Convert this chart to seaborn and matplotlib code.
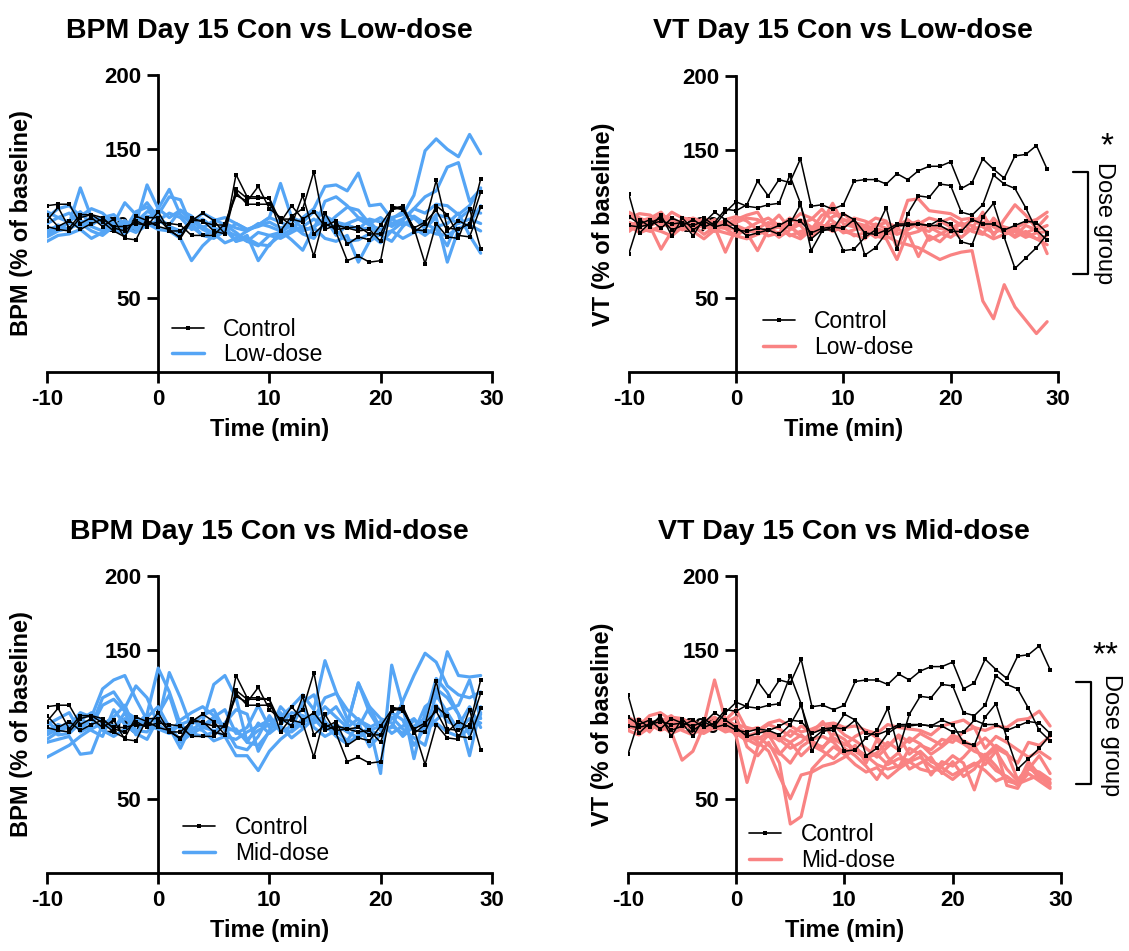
import pandas as pd
import seaborn as sns
import matplotlib.pyplot as plt
from matplotlib.lines import Line2D

# time axis, one reading per minute
time = list(range(-10, 30))

# control group, BPM (% of baseline)
bpm_con = [
    [112, 113, 113, 100, 104, 98, 103, 90, 89, 104, 104, 95, 95, 102, 107, 102, 93, 133, 118, 118,
     117, 95, 105, 110, 135, 96, 99, 97, 95, 96, 88, 111, 111, 94, 100, 129, 97, 96, 100, 130],
    [102, 111, 97, 106, 106, 101, 95, 91, 105, 102, 98, 96, 90, 102, 102, 95, 93, 123, 117, 117,
     117, 101, 112, 103, 108, 98, 102, 86, 91, 89, 99, 110, 110, 97, 101, 109, 95, 102, 98, 121],
    [98, 96, 95, 104, 106, 104, 97, 95, 102, 98, 108, 95, 91, 104, 101, 99, 99, 119, 115, 125,
     110, 104, 99, 119, 93, 100, 96, 97, 98, 93, 93, 109, 112, 96, 95, 112, 106, 92, 91, 111],
    [106, 98, 102, 96, 100, 103, 98, 98, 100, 99, 101, 100, 99, 92, 92, 92, 100, 121, 113, 113,
     113, 103, 103, 101, 78, 107, 94, 75, 78, 74, 75, 112, 109, 97, 73, 100, 91, 90, 110, 83],
]

# control group, VT (% of baseline)
vt_con = [
    [120, 94, 101, 104, 96, 99, 103, 98, 101, 110, 109, 113, 129, 119, 130, 128, 144, 112, 113, 110,
     113, 129, 130, 130, 127, 134, 130, 136, 139, 139, 142, 124, 128, 144, 137, 131, 146, 147, 153, 137],
    [105, 100, 103, 97, 104, 101, 92, 104, 99, 108, 115, 112, 111, 113, 114, 133, 114, 82, 95, 98,
     82, 83, 91, 96, 111, 83, 107, 119, 118, 127, 126, 108, 106, 113, 133, 127, 124, 111, 96, 89],
    [80, 103, 98, 106, 92, 104, 96, 101, 108, 103, 98, 92, 94, 96, 93, 100, 113, 90, 96, 96,
     107, 103, 79, 84, 94, 99, 99, 100, 99, 103, 100, 88, 86, 105, 114, 91, 70, 77, 84, 93],
    [99, 98, 100, 102, 100, 101, 99, 102, 98, 100, 96, 95, 97, 96, 99, 103, 102, 94, 97, 98,
     97, 103, 94, 93, 96, 100, 100, 100, 99, 99, 95, 95, 103, 100, 100, 96, 99, 102, 101, 94],
]

bpm_low = [
    [108, 104, 107, 100, 104, 102, 96, 100, 97, 103, 110, 104, 109, 102, 96, 93, 100, 97, 95, 99,
     104, 101, 97, 95, 98, 104, 92, 99, 96, 103, 101, 104, 106, 119, 149, 157, 150, 145, 160, 147],
    [94, 99, 96, 102, 98, 95, 101, 97, 94, 99, 102, 98, 95, 99, 103, 97, 94, 100, 96, 98,
     101, 97, 99, 95, 98, 102, 97, 100, 103, 99, 96, 100, 103, 110, 118, 122, 138, 141, 115, 123],
    [96, 98, 100, 124, 104, 100, 96, 93, 99, 105, 103, 99, 109, 105, 97, 102, 104, 100, 96, 99,
     104, 127, 104, 101, 108, 105, 101, 99, 96, 97, 93, 103, 108, 104, 97, 104, 74, 96, 100, 112],
    [88, 92, 93, 96, 90, 94, 97, 95, 100, 126, 110, 123, 106, 100, 92, 95, 98, 88, 92, 75,
     86, 92, 96, 104, 110, 125, 126, 122, 134, 112, 113, 103, 99, 104, 97, 106, 104, 100, 103, 100],
    [91, 95, 97, 100, 95, 92, 98, 102, 96, 100, 96, 95, 90, 75, 85, 92, 96, 88, 90, 86,
     85, 95, 89, 82, 97, 90, 88, 92, 74, 88, 93, 95, 101, 97, 92, 98, 100, 107, 92, 80],
    [100, 104, 101, 97, 102, 104, 106, 99, 101, 108, 106, 118, 116, 98, 92, 90, 95, 92, 88, 94,
     92, 90, 94, 98, 103, 98, 105, 111, 109, 100, 104, 98, 102, 110, 107, 113, 112, 106, 112, 124],
    [93, 96, 101, 108, 99, 104, 100, 96, 108, 111, 102, 107, 104, 96, 98, 93, 87, 90, 95, 100,
     98, 95, 103, 97, 96, 115, 118, 112, 104, 102, 92, 88, 98, 105, 100, 96, 85, 103, 109, 107],
    [104, 110, 112, 105, 110, 107, 100, 114, 106, 114, 104, 98, 93, 100, 107, 103, 99, 94, 88, 85,
     92, 94, 99, 93, 90, 101, 95, 88, 89, 93, 87, 95, 90, 94, 96, 93, 92, 97, 99, 95],
]

bpm_mid = [
    [78, 82, 86, 92, 97, 101, 99, 104, 100, 107, 138, 122, 100, 94, 98, 103, 99, 95, 90, 96,
     100, 105, 112, 120, 110, 143, 122, 104, 98, 112, 97, 104, 110, 95, 112, 118, 149, 133, 132, 133],
    [90, 95, 99, 108, 105, 124, 130, 133, 117, 103, 102, 135, 118, 98, 96, 89, 92, 79, 79, 69,
     82, 90, 96, 104, 101, 106, 112, 100, 128, 108, 96, 98, 116, 133, 148, 142, 126, 120, 118, 122],
    [98, 93, 94, 101, 96, 92, 110, 100, 94, 90, 104, 97, 90, 96, 102, 127, 133, 118, 88, 86,
     95, 112, 104, 98, 104, 118, 121, 110, 103, 99, 67, 140, 112, 77, 108, 124, 118, 107, 93, 107],
    [88, 90, 92, 80, 81, 100, 105, 113, 96, 95, 103, 100, 88, 94, 92, 95, 101, 110, 107, 82,
     96, 108, 98, 115, 120, 102, 94, 100, 128, 112, 104, 101, 92, 99, 104, 131, 122, 107, 79, 112],
    [102, 96, 99, 103, 108, 102, 97, 108, 93, 105, 112, 98, 84, 100, 106, 110, 96, 97, 88, 101,
     94, 100, 108, 106, 103, 112, 105, 98, 104, 96, 99, 108, 103, 86, 98, 103, 110, 113, 130, 104],
    [95, 100, 97, 104, 99, 113, 117, 109, 104, 99, 97, 94, 100, 103, 98, 96, 92, 90, 95, 99,
     103, 98, 95, 101, 107, 100, 92, 87, 93, 98, 102, 94, 99, 104, 95, 120, 108, 96, 104, 101],
    [93, 97, 102, 97, 104, 96, 92, 97, 105, 100, 107, 120, 96, 93, 99, 105, 110, 94, 98, 113,
     98, 99, 91, 97, 104, 96, 100, 95, 91, 96, 93, 99, 94, 103, 97, 101, 95, 92, 97, 108],
    [100, 104, 108, 95, 99, 118, 122, 111, 126, 118, 100, 94, 103, 108, 112, 106, 98, 85, 83, 92,
     106, 95, 99, 112, 98, 92, 96, 89, 101, 85, 93, 105, 97, 91, 86, 113, 102, 99, 112, 98],
]

vt_low = [
    [100, 97, 95, 99, 101, 96, 99, 93, 98, 97, 92, 90, 93, 96, 94, 99, 92, 95, 97, 99,
     95, 93, 90, 97, 92, 88, 86, 84, 80, 76, 79, 81, 82, 48, 36, 59, 44, 35, 26, 34],
    [104, 107, 106, 101, 108, 104, 103, 97, 100, 99, 101, 104, 103, 99, 106, 97, 103, 98, 96, 105,
     107, 101, 98, 95, 93, 95, 116, 117, 109, 108, 107, 103, 104, 101, 100, 95, 98, 93, 90, 92],
    [106, 102, 104, 108, 99, 103, 96, 102, 98, 81, 97, 94, 82, 96, 98, 92, 95, 97, 101, 114,
     100, 98, 95, 92, 90, 76, 94, 78, 92, 88, 95, 91, 97, 108, 92, 103, 113, 106, 97, 105],
    [95, 100, 98, 83, 95, 101, 99, 104, 100, 102, 99, 96, 94, 97, 100, 98, 93, 96, 99, 98,
     103, 101, 99, 97, 95, 98, 101, 100, 104, 102, 98, 95, 96, 99, 101, 98, 96, 94, 97, 80],
    [108, 104, 101, 106, 103, 97, 101, 99, 95, 100, 103, 106, 108, 97, 91, 96, 100, 103, 110, 102,
     97, 92, 94, 100, 97, 93, 96, 101, 98, 94, 91, 96, 104, 98, 94, 97, 92, 99, 96, 99],
    [99, 94, 97, 95, 92, 98, 95, 90, 96, 94, 92, 97, 101, 104, 99, 93, 90, 96, 106, 108,
     103, 99, 96, 91, 94, 97, 93, 95, 99, 97, 96, 100, 99, 94, 90, 93, 95, 91, 94, 95],
    [101, 99, 103, 100, 98, 102, 104, 101, 97, 103, 105, 102, 96, 92, 94, 101, 107, 104, 99, 95,
     98, 104, 102, 99, 101, 98, 103, 97, 95, 101, 104, 99, 102, 105, 98, 94, 97, 101, 103, 108],
    [97, 103, 99, 102, 104, 100, 97, 99, 103, 98, 96, 94, 97, 101, 98, 104, 99, 91, 98, 100,
     94, 96, 99, 104, 102, 84, 99, 102, 89, 93, 97, 101, 95, 93, 104, 96, 91, 95, 90, 86],
]

vt_mid = [
    [100, 104, 97, 102, 106, 99, 103, 97, 101, 104, 99, 94, 88, 82, 65, 50, 66, 68, 72, 74,
     78, 84, 79, 73, 70, 72, 75, 70, 68, 71, 66, 70, 74, 69, 62, 65, 60, 63, 66, 61],
    [103, 99, 106, 108, 103, 96, 93, 100, 97, 101, 105, 85, 79, 88, 74, 33, 38, 70, 78, 85,
     80, 73, 68, 71, 64, 70, 75, 78, 72, 68, 63, 69, 73, 77, 69, 65, 59, 67, 62, 57],
    [97, 102, 95, 104, 101, 104, 98, 100, 130, 103, 110, 96, 98, 92, 90, 84, 88, 95, 97, 100,
     93, 89, 84, 78, 85, 92, 80, 86, 83, 90, 88, 95, 98, 84, 92, 88, 83, 78, 82, 77],
    [99, 96, 101, 99, 95, 76, 82, 99, 98, 103, 92, 61, 85, 94, 89, 96, 92, 89, 84, 94,
     90, 82, 77, 81, 88, 83, 91, 87, 80, 85, 91, 87, 82, 79, 86, 81, 63, 70, 79, 67],
    [105, 101, 98, 103, 97, 101, 99, 102, 105, 100, 96, 92, 95, 100, 97, 92, 99, 95, 102, 90,
     86, 92, 96, 91, 85, 93, 88, 94, 90, 86, 93, 89, 85, 91, 84, 80, 74, 88, 86, 92],
    [101, 98, 99, 103, 104, 100, 98, 97, 103, 99, 100, 98, 96, 101, 103, 99, 95, 97, 100, 101,
     98, 99, 96, 94, 100, 98, 97, 96, 93, 99, 101, 103, 98, 96, 99, 98, 103, 104, 109, 99],
    [96, 93, 98, 100, 94, 97, 101, 96, 99, 95, 97, 90, 86, 93, 81, 74, 85, 90, 92, 88,
     80, 86, 74, 90, 78, 71, 84, 80, 66, 75, 72, 78, 86, 73, 82, 70, 62, 72, 64, 60],
    [98, 101, 100, 96, 99, 103, 96, 94, 98, 97, 94, 89, 92, 86, 80, 88, 79, 86, 82, 77,
     84, 79, 72, 63, 75, 81, 70, 74, 78, 67, 75, 65, 70, 80, 72, 62, 60, 75, 66, 58],
    [102, 97, 103, 98, 105, 104, 100, 98, 100, 98, 96, 93, 90, 95, 92, 88, 93, 87, 85, 91,
     87, 83, 78, 80, 73, 77, 76, 82, 75, 72, 79, 74, 56, 78, 84, 59, 57, 70, 68, 63],
]

blue = "#55A5F5"
salmon = "#F98383"


def to_long(rows):
    recs = []
    for i, r in enumerate(rows):
        for t, v in zip(time, r):
            recs.append((i, t, v))
    return pd.DataFrame(recs, columns=["animal", "time", "value"])


sns.set_theme(style="ticks", rc={"text.color": "black", "axes.labelcolor": "black",
                                 "axes.edgecolor": "black", "xtick.color": "black",
                                 "ytick.color": "black", "axes.unicode_minus": False})
plt.rcParams["font.family"] = ["Liberation Sans", "DejaVu Sans"]

fig = plt.figure(figsize=(11.29, 9.51), dpi=100)

panels = [
    # pos, title, ylabel, control, dose, dose label, colour, legend anchor, ylabel x
    ([0.0416, 0.6088, 0.394, 0.3123], "BPM Day 15 Con vs Low-dose", "BPM (% of baseline)",
     bpm_con, bpm_low, "Low-dose", blue, (0.28, 0.02), -0.031),
    ([0.557, 0.6088, 0.380, 0.3113], "VT Day 15 Con vs Low-dose", "VT (% of baseline)",
     vt_con, vt_low, "Low-dose", salmon, (0.312, 0.045), -0.033),
    ([0.0416, 0.0820, 0.394, 0.3123], "BPM Day 15 Con vs Mid-dose", "BPM (% of baseline)",
     bpm_con, bpm_mid, "Mid-dose", blue, (0.306, 0.028), -0.031),
    ([0.5562, 0.0820, 0.3835, 0.3123], "VT Day 15 Con vs Mid-dose", "VT (% of baseline)",
     vt_con, vt_mid, "Mid-dose", salmon, (0.28, 0.005), -0.032),
]

axes = []
for pos, title, ylab, con, dose, dlab, col, lanchor, ylx in panels:
    ax = fig.add_axes(pos)
    axes.append(ax)
    sns.lineplot(data=to_long(dose), x="time", y="value", units="animal", estimator=None,
                 color=col, lw=2.3, ax=ax, legend=False, zorder=3)
    sns.lineplot(data=to_long(con), x="time", y="value", units="animal", estimator=None,
                 color="black", lw=1.1, marker="s", markersize=2.6, markeredgewidth=0,
                 ax=ax, legend=False, zorder=4)
    ax.set_xlim(-10, 30)
    ax.set_ylim(0, 200)
    ax.set_xticks([-10, 0, 10, 20, 30])
    ax.set_yticks([50, 100, 150, 200])
    ax.spines["left"].set_position(("data", 0))
    ax.spines[["top", "right"]].set_visible(False)
    for s in ["left", "bottom"]:
        ax.spines[s].set_linewidth(2.0)
    ax.tick_params(width=2.0, length=8, labelsize=16, pad=4)
    for lbl in ax.get_xticklabels() + ax.get_yticklabels():
        lbl.set_fontweight("bold")
    ax.set_title(title, fontsize=20.5, fontweight="bold", pad=27)
    ax.set_xlabel("Time (min)", fontsize=17, fontweight="bold", labelpad=6)
    ax.set_ylabel(ylab, fontsize=17, fontweight="bold")
    ax.yaxis.set_label_coords(ylx, 0.5)

    handles = [Line2D([], [], color="black", lw=1.2, marker="s", markersize=2.6, markeredgewidth=0),
               Line2D([], [], color=col, lw=2.5)]
    ax.legend(handles, ["Control", dlab], loc="lower left", bbox_to_anchor=lanchor,
              frameon=False, fontsize=16.5, handlelength=1.4, handletextpad=0.85,
              labelspacing=0.1, borderaxespad=0, borderpad=0)

# significance brackets on the VT panels
ax = axes[1]
ax.plot([31.4, 32.8, 32.8, 31.4], [135, 135, 66, 66], color="black", lw=1.6, clip_on=False)
ax.text(34.3, 100.5, "Dose group", rotation=270, ha="center", va="center", fontsize=17)
ax.text(34.6, 152, "*", ha="center", va="center", fontsize=24)

ax = axes[3]
ax.plot([31.4, 32.8, 32.8, 31.4], [128.6, 128.6, 60, 60], color="black", lw=1.6, clip_on=False)
ax.text(34.6, 93, "Dose group", rotation=270, ha="center", va="center", fontsize=17)
ax.text(34.1, 146, "**", ha="center", va="center", fontsize=24)

fig.savefig("out.png", dpi=100)
plt.close("all")
